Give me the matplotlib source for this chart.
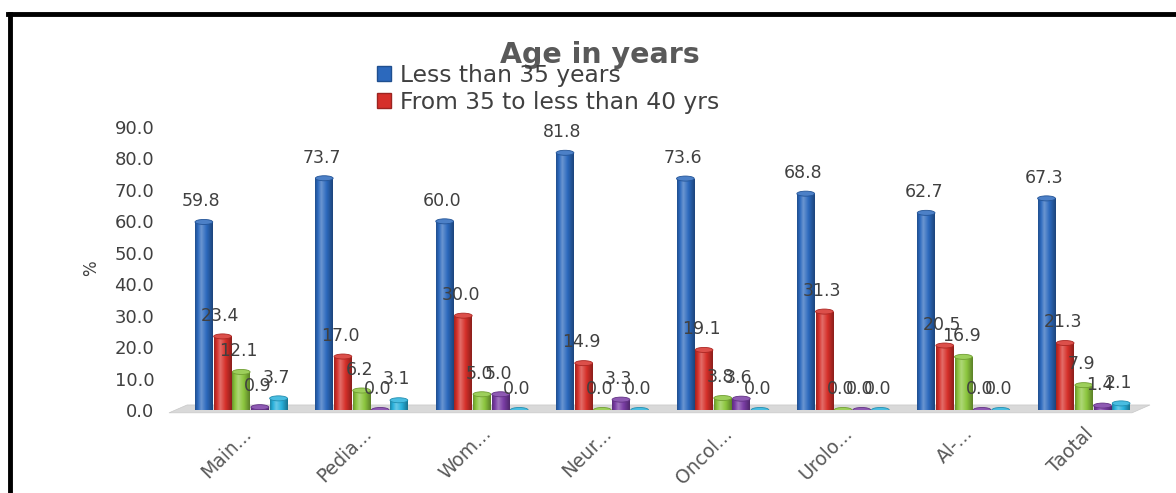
import numpy as np
import matplotlib.pyplot as plt
from matplotlib.patches import Polygon, Patch, Ellipse
from matplotlib.lines import Line2D
from matplotlib.colors import to_rgb

# Dữ liệu
categories = ['Main...', 'Pedia...', 'Wom...', 'Neur...', 'Oncol...', 'Urolo...', 'Al-...', 'Taotal']
less_35 = [59.8, 73.7, 60.0, 81.8, 73.6, 68.8, 62.7, 67.3]
from_35_40 = [23.4, 17.0, 30.0, 14.9, 19.1, 31.3, 20.5, 21.3]
series_3 = [12.1, 6.2, 5.0, 0.0, 3.8, 0.0, 16.9, 7.9]
series_4 = [0.9, 0.0, 5.0, 3.3, 3.6, 0.0, 0.0, 1.4]
series_5 = [3.7, 3.1, 0.0, 0.0, 0.0, 0.0, 0.0, 2.1]
legend_names = ['Less than 35 years', 'From 35 to less than 40 yrs']

series = [less_35, from_35_40, series_3, series_4, series_5]
colors = ['#2C69BD', '#D6302A', '#8CC63E', '#7A3DA5', '#29B1DC']

fig = plt.figure(figsize=(11.76, 4.93), dpi=100)
ax = fig.add_axes([175 / 1176, 1 - 410 / 493, 975 / 1176, 283 / 493])

x = np.arange(len(categories))
w = 0.155

# nền xám phía dưới (floor)
floor = Polygon([(-0.6, -0.9), (7.4, -0.9), (7.55, 1.6), (-0.45, 1.6)],
                closed=True, facecolor='#d9d9d9', edgecolor='#c8c8c8',
                lw=0.5, zorder=1, clip_on=False)
ax.add_patch(floor)


def shade(c, f):
    r = np.array(to_rgb(c))
    if f >= 0:
        return r + (1 - r) * f
    return r * (1 + f)


grad = np.linspace(0, 1, 64)
prof = np.where(grad < 0.35, -0.25 + grad / 0.35 * 0.55, 0.30 - (grad - 0.35) / 0.65 * 0.65)

for i, (vals, c) in enumerate(zip(series, colors)):
    pos = x - 0.31 + i * w
    bars = ax.bar(pos, vals, width=w * 0.95, color=c, zorder=3)
    for b, v in zip(bars, vals):
        x0, bw = b.get_x(), b.get_width()
        img = np.array([[shade(c, p) for p in prof]])
        im = ax.imshow(img, extent=[x0, x0 + bw, 0, max(v, 0.01)], aspect='auto',
                       zorder=3, interpolation='bilinear')
        im.set_clip_path(b)
        cap = Ellipse((x0 + bw / 2, v), bw, 1.6, facecolor=shade(c, 0.15),
                      edgecolor=shade(c, -0.2), lw=0.6, zorder=4)
        ax.add_patch(cap)
        ax.text(x0 + bw / 2 - 0.02, v + 6.6, f'{v:.1f}', ha='center', va='center',
                fontsize=12.5, color='#404040', zorder=6)

ax.set_xlim(-0.55, 7.55)
ax.set_ylim(0, 90)

ax.set_yticks(np.arange(0, 91, 10))
ax.set_yticklabels([f'{t:.1f}' for t in np.arange(0, 91, 10)], fontsize=13, color='#404040')
ax.set_xticks(x)
ax.set_xticklabels(categories, rotation=45, ha='right', rotation_mode='anchor',
                   fontsize=13.5, color='#595959')
ax.tick_params(axis='both', length=0)
ax.tick_params(axis='x', pad=10)
ax.tick_params(axis='y', pad=15)
ax.set_ylabel('%', fontsize=12, color='#404040', labelpad=10)
for s in ax.spines.values():
    s.set_visible(False)

# tiêu đề và chú thích
fig.text(600 / 1176, 1 - 55 / 493, 'Age in years', ha='center', va='center', fontsize=20.5,
         fontweight='bold', color='#595959')
handles = [Patch(facecolor=colors[0], edgecolor='#1f4f8f'),
           Patch(facecolor=colors[1], edgecolor='#9c2420')]
fig.legend(handles, legend_names, loc='upper left', bbox_to_anchor=(377 / 1176, 1 - 64 / 493),
           frameon=False, fontsize=16.8, labelspacing=0.15, handlelength=0.6,
           handleheight=0.6, handletextpad=0.4, borderpad=0, borderaxespad=0,
           labelcolor='#404040')

# khung đen
fig.add_artist(Line2D([8 / 1176, 1], [1 - 14 / 493, 1 - 14 / 493], color='black', lw=3.5))
fig.add_artist(Line2D([10 / 1176, 10 / 1176], [0, 1 - 14 / 493], color='black', lw=3.5))

fig.savefig('out.png', dpi=100)
